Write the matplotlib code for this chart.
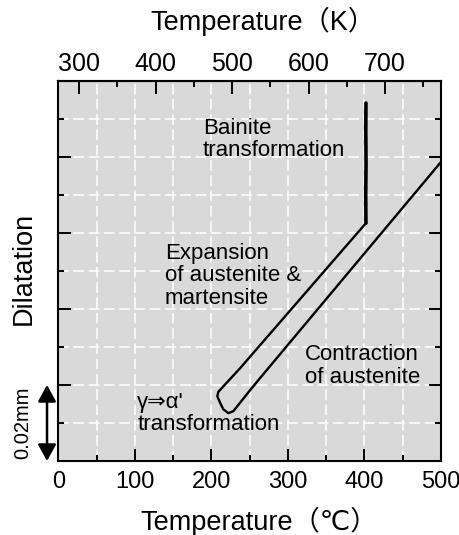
import matplotlib
matplotlib.use('Agg')
import matplotlib.pyplot as plt
from matplotlib.ticker import MultipleLocator, FixedLocator
from matplotlib.transforms import blended_transform_factory

# Dilatation curve (temperature in degC, dilatation in mm)
# cooling of austenite, gamma -> alpha' loop, heating back to ~400 degC
path_temp = [500, 371.9, 263.4, 250.3, 228.5, 222.0, 215.4, 211.1, 207.6, 208.9, 237.3, 401.9]
path_dil = [0.0787, 0.0479, 0.0218, 0.0186, 0.0131, 0.0126, 0.0136, 0.0154, 0.0170, 0.0182, 0.0244, 0.0626]

# isothermal bainite transformation at ~400 degC
bainite_temp = [401.9, 401.6, 402.0, 401.7, 401.9]
bainite_dil = [0.0626, 0.0700, 0.0780, 0.0870, 0.0942]

k_major = [300, 400, 500, 600, 700]
k_minor = [350, 450, 550, 650, 750]

sans = ['Liberation Sans', 'DejaVu Sans', 'Noto Sans CJK JP']
plt.rcParams['font.family'] = sans

fig = plt.figure(figsize=(4.6, 5.35), dpi=100)
ax = fig.add_axes([58.5 / 460, 1 - 461 / 535, 382.5 / 460, 380 / 535])
ax.set_facecolor('#d9d9d9')

ax.set_xlim(0, 500)
ax.set_ylim(0, 0.10)

ax.plot(path_temp, path_dil, color='black', lw=1.7, solid_joinstyle='round', zorder=3)
ax.plot(bainite_temp, bainite_dil, color='black', lw=2.6, solid_capstyle='round', zorder=3)

# ticks
ax.xaxis.set_major_locator(MultipleLocator(100))
ax.xaxis.set_minor_locator(MultipleLocator(50))
ax.yaxis.set_major_locator(FixedLocator([0.02, 0.04, 0.06, 0.08]))
ax.yaxis.set_minor_locator(FixedLocator([0.01, 0.03, 0.05, 0.07, 0.09]))
ax.tick_params(which='both', direction='in', width=1.4, top=False, right=True, left=True)
ax.tick_params(which='major', length=9)
ax.tick_params(which='minor', length=4.5)
ax.tick_params(axis='x', labelsize=17, pad=7)
ax.tick_params(axis='y', labelleft=False)
for s in ax.spines.values():
    s.set_linewidth(1.5)

ax.grid(which='both', color='white', lw=1.1, ls=(0, (7, 3)))
ax.set_axisbelow(True)

sec = ax.secondary_xaxis('top', functions=(lambda c: c + 273.15, lambda k: k - 273.15))
sec.xaxis.set_major_locator(FixedLocator(k_major))
sec.xaxis.set_minor_locator(FixedLocator(k_minor))
sec.tick_params(which='both', direction='in', width=1.4, labelsize=18, pad=3.5)
sec.tick_params(which='major', length=9)
sec.tick_params(which='minor', length=4.5)
sec.spines['top'].set_linewidth(1.5)

# axis titles
fig.text(263 / 460, 1 - 30 / 535, 'Temperature（K）', ha='center', va='baseline', fontsize=19.5)
fig.text(259 / 460, 1 - 530 / 535, 'Temperature（℃）', ha='center', va='baseline', fontsize=19.5)
fig.text(24 / 460, 1 - 268 / 535, 'Dilatation', ha='center', va='center', rotation=90, fontsize=19.5)

# 0.02 mm scale bar
tr = blended_transform_factory(ax.transAxes, ax.transData)
ax.annotate('', xy=(-0.030, 0.0), xytext=(-0.030, 0.02), xycoords=tr, textcoords=tr,
            arrowprops=dict(arrowstyle='<|-|>,head_length=1.0,head_width=0.55',
                            color='black', lw=1.8, shrinkA=0, shrinkB=0),
            annotation_clip=False)
ax.text(-0.093, 0.01, '0.02mm', transform=tr, rotation=90, ha='center', va='center', fontsize=14.5)

# annotations
txt = dict(fontsize=16, ha='left', va='top', linespacing=1.1)
ax.text(189, 0.0903, 'Bainite\ntransformation', **txt)
ax.text(139, 0.0574, 'Expansion\nof austenite &\nmartensite', **txt)
ax.text(322, 0.0308, 'Contraction\nof austenite', **txt)
ax.text(103, 0.0182, "γ⇒α'\ntransformation", **txt)

fig.savefig('out.png', dpi=100)
